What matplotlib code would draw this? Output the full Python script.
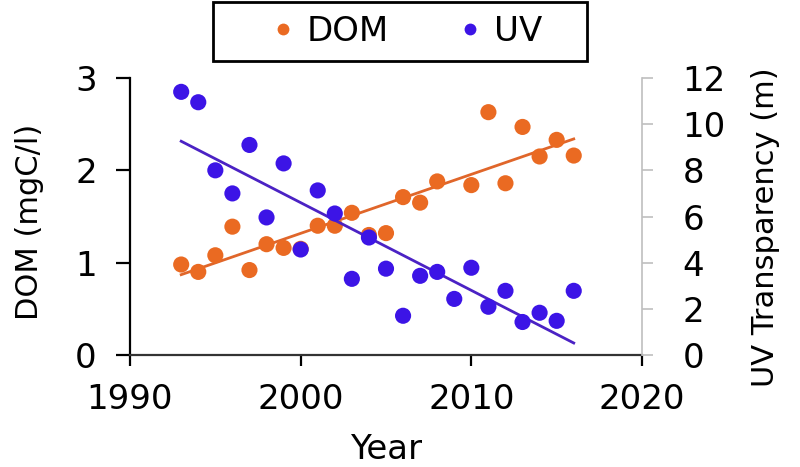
import numpy as np
import matplotlib
matplotlib.use("Agg")
import matplotlib.pyplot as plt
from matplotlib.lines import Line2D

# DOM (mgC/l), no point visible for 2009
dom_years = [1993, 1994, 1995, 1996, 1997, 1998, 1999, 2000, 2001, 2002, 2003, 2004,
             2005, 2006, 2007, 2008, 2010, 2011, 2012, 2013, 2014, 2015, 2016]
dom = [0.98, 0.90, 1.08, 1.39, 0.92, 1.20, 1.16, 1.15, 1.40, 1.40, 1.54, 1.30,
       1.32, 1.71, 1.65, 1.88, 1.84, 2.63, 1.86, 2.47, 2.15, 2.33, 2.16]

# UV transparency (m)
uv_years = list(range(1993, 2017))
uv = [11.4, 10.95, 8.0, 7.0, 9.1, 5.96, 8.3, 4.57, 7.13, 6.13, 3.3, 5.09,
      3.74, 1.7, 3.43, 3.6, 2.43, 3.78, 2.09, 2.78, 1.43, 1.83, 1.48, 2.78]

# linear trend ends
trend_years = [1993, 2016]
dom_trend = [0.87, 2.34]
uv_trend = [9.26, 0.52]

dom_color = '#EA6A22'
uv_color = '#3C14E6'
dom_line = '#E0662A'
uv_line = '#4B22C4'

plt.rcParams['font.family'] = 'DejaVu Sans'

fig = plt.figure(figsize=(8, 4.67), dpi=100)
ax = fig.add_axes([130/800, 1-355/467, 512/800, 277/467])
ax2 = ax.twinx()

ax.plot(trend_years, dom_trend, color=dom_line, lw=2, zorder=2)
ax.scatter(dom_years, dom, s=135, color=dom_color, edgecolors='none', zorder=3)
ax2.plot(trend_years, uv_trend, color=uv_line, lw=2, zorder=2)
ax2.scatter(uv_years, uv, s=135, color=uv_color, edgecolors='none', zorder=3)

ax.set_xlim(1990, 2020)
ax.set_ylim(0, 3)
ax2.set_ylim(0, 12)
ax.set_xticks([1990, 2000, 2010, 2020])
ax.set_yticks([0, 1, 2, 3])
ax2.set_yticks([0, 2, 4, 6, 8, 10, 12])

for s in ['top', 'right']:
    ax.spines[s].set_visible(False)
for s in ['top', 'left', 'bottom']:
    ax2.spines[s].set_visible(False)
ax.spines['left'].set_linewidth(1.6)
ax.spines['bottom'].set_linewidth(1.6)
ax.spines['bottom'].set_color('#333333')
ax2.spines['right'].set_color('#BFBFBF')
ax2.spines['right'].set_linewidth(1.2)

ax.tick_params(axis='x', direction='out', length=8, width=1.6, labelsize=24.5, pad=12)
ax.tick_params(axis='y', direction='out', length=10, width=1.6, labelsize=24.5, pad=14)
ax2.tick_params(axis='y', direction='out', length=8, width=1.2, color='#BFBFBF',
                labelsize=24.5, pad=21)

ax.set_xlabel('Year', fontsize=24.5)
ax.xaxis.set_label_coords(0.5, -0.28)
ax.set_ylabel('DOM (mgC/l)', fontsize=22)
ax.yaxis.set_label_coords(-0.168, 0.48)
ax2.set_ylabel('UV Transparency (m)', fontsize=22)
ax2.yaxis.set_label_coords(1.213, 0.46)

handles = [Line2D([], [], ls='none', marker='o', ms=8.5, color=dom_color, mec='none'),
           Line2D([], [], ls='none', marker='o', ms=8.5, color=uv_color, mec='none')]
leg = fig.legend(handles, ['DOM', 'UV   '], loc='upper left',
                 bbox_to_anchor=(213/800, 1-2/467), borderaxespad=0, ncol=2,
                 fontsize=24.5, borderpad=0.38, handlelength=3.36, handletextpad=-0.98,
                 columnspacing=0.70, fancybox=False, framealpha=1)
leg.get_frame().set_edgecolor('black')
leg.get_frame().set_linewidth(2)

fig.savefig('out.png', dpi=100)
